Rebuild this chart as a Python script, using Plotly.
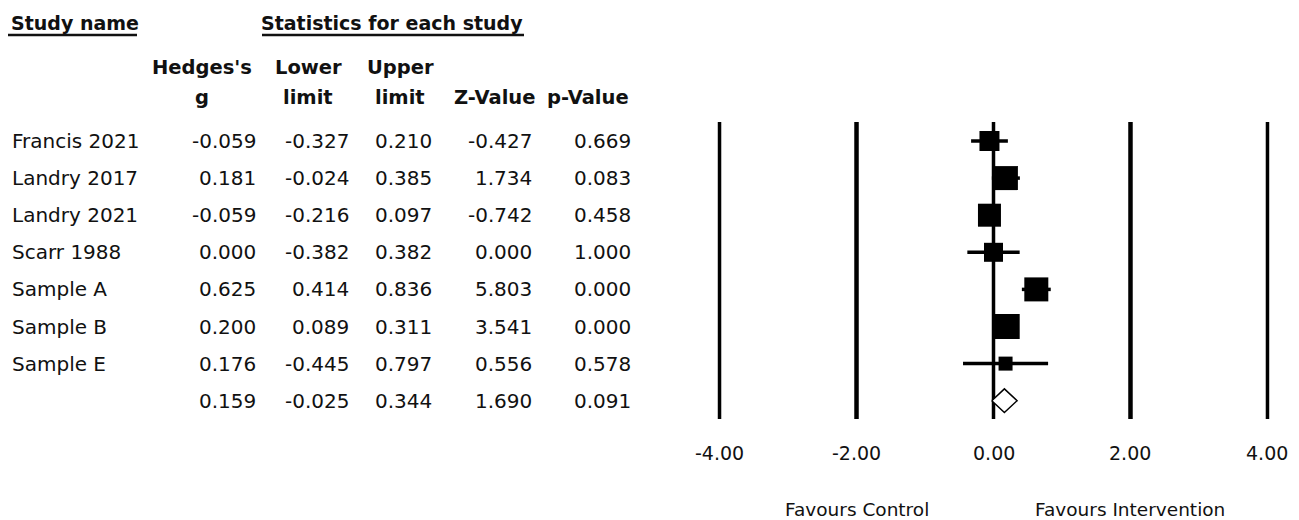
import plotly.graph_objects as go

# ---- study-level results (Hedges's g with 95% CI) ----
studies = ["Francis 2021", "Landry 2017", "Landry 2021", "Scarr 1988",
           "Sample A", "Sample B", "Sample E"]
hedges_g = [-0.059, 0.181, -0.059, 0.000, 0.625, 0.200, 0.176]
lower_limit = [-0.327, -0.024, -0.216, -0.382, 0.414, 0.089, -0.445]
upper_limit = [0.210, 0.385, 0.097, 0.382, 0.836, 0.311, 0.797]
z_value = [-0.427, 1.734, -0.742, 0.000, 5.803, 3.541, 0.556]
p_value = [0.669, 0.083, 0.458, 1.000, 0.000, 0.000, 0.578]

# ---- pooled estimate ----
pooled_g = 0.159
pooled_lower = -0.025
pooled_upper = 0.344
pooled_z = 1.690
pooled_p = 0.091

# ---- axis ----
axis_ticks = [-4, -2, 0, 2, 4]
tick_labels = ["-4.00", "-2.00", "0.00", "2.00", "4.00"]
favour_labels = ["Favours Control", "Favours Intervention"]
favour_positions = [-2, 2]

# ---- styling ----
W, H = 1299, 520
INK = "#111111"
FONT = "DejaVu Sans"
square_px = [20, 24, 23, 19, 24, 25, 14]
line_widths = {-4: 3.5, -2: 4.5, 0: 3.5, 2: 4.5, 4: 3.5}


def py(pix):
    """pixel row (from top) -> paper y"""
    return 1 - pix / H


def px(pix):
    """pixel column -> paper x"""
    return pix / W


rows = list(range(len(studies)))
pooled_row = len(studies)

fig = go.Figure()

# study squares with confidence-interval whiskers
fig.add_trace(go.Scatter(
    x=hedges_g, y=rows, mode="markers",
    marker=dict(symbol="square", size=square_px, color="black",
                opacity=1, line=dict(width=0)),
    error_x=dict(type="data", symmetric=False,
                 array=[u - g for u, g in zip(upper_limit, hedges_g)],
                 arrayminus=[g - l for g, l in zip(hedges_g, lower_limit)],
                 thickness=3.5, width=0, color="black"),
    hoverinfo="skip", cliponaxis=False,
))

# pooled diamond
half_h = 0.32
fig.add_trace(go.Scatter(
    x=[pooled_lower, pooled_g, pooled_upper, pooled_g, pooled_lower],
    y=[pooled_row, pooled_row - half_h, pooled_row,
       pooled_row + half_h, pooled_row],
    mode="lines", fill="toself", fillcolor="white",
    line=dict(color="black", width=1.5),
    hoverinfo="skip",
))

shapes = []
# vertical reference lines at each axis tick
for t in axis_ticks:
    shapes.append(dict(type="line", xref="x", yref="paper",
                       x0=t, x1=t, y0=py(419), y1=py(122),
                       line=dict(color="black", width=line_widths[t]),
                       layer="below"))
# header underlines
shapes.append(dict(type="line", xref="paper", yref="paper",
                   x0=px(8), x1=px(137), y0=py(35), y1=py(35),
                   line=dict(color=INK, width=2.5)))
shapes.append(dict(type="line", xref="paper", yref="paper",
                   x0=px(262), x1=px(524), y0=py(35), y1=py(35),
                   line=dict(color=INK, width=2.5)))

ann = []


def text(x, y, s, xanchor="center", size=20, bold=False, yref="paper"):
    ann.append(dict(x=x, y=y, xref="paper", yref=yref, text=(f"<b>{s}</b>" if bold else s),
                    showarrow=False, xanchor=xanchor, yanchor="middle",
                    font=dict(family=FONT, size=size, color=INK)))


# headers
text(px(9), py(23), "Study name", xanchor="left", size=19, bold=True)
text(px(392), py(23), "Statistics for each study", size=19, bold=True)
header_cols = [(202, "Hedges's", "g"), (308, "Lower", "limit"),
               (400, "Upper", "limit"), (494, "", "Z-Value"),
               (588, "", "p-Value")]
for cx, l1, l2 in header_cols:
    if l1:
        text(px(cx), py(68), l1, size=19.5, bold=True)
    text(px(cx), py(97), l2, size=19.5, bold=True)

# table body
col_right = [258, 351, 434, 534, 633]
table_rows = list(zip(studies, hedges_g, lower_limit, upper_limit, z_value, p_value))
table_rows.append(("", pooled_g, pooled_lower, pooled_upper, pooled_z, pooled_p))
for i, (name, *vals) in enumerate(table_rows):
    if name:
        text(px(10), i, name, xanchor="left", yref="y")
    for cr, v in zip(col_right, vals):
        text(px(cr), i, f"{v:.3f}", xanchor="right", yref="y")

# axis tick labels and direction labels
for t, lab in zip(axis_ticks, tick_labels):
    ann.append(dict(x=t, y=py(453), xref="x", yref="paper", text=lab,
                    showarrow=False, xanchor="center", yanchor="middle",
                    font=dict(family=FONT, size=19, color=INK)))
for xpos, lab in zip(favour_positions, favour_labels):
    ann.append(dict(x=xpos, y=py(509), xref="x", yref="paper", text=lab,
                    showarrow=False, xanchor="center", yanchor="middle",
                    font=dict(family=FONT, size=18.5, color=INK)))

fig.update_layout(
    width=W, height=H,
    margin=dict(l=0, r=0, t=0, b=0),
    paper_bgcolor="white", plot_bgcolor="white",
    showlegend=False,
    xaxis=dict(domain=[px(700), px(1287)], range=[-4.285, 4.285],
               visible=False, fixedrange=True),
    yaxis=dict(domain=[py(440), py(100)], range=[8.059, -1.105],
               visible=False, fixedrange=True),
    shapes=shapes, annotations=ann,
)

fig.write_html("out.html")
